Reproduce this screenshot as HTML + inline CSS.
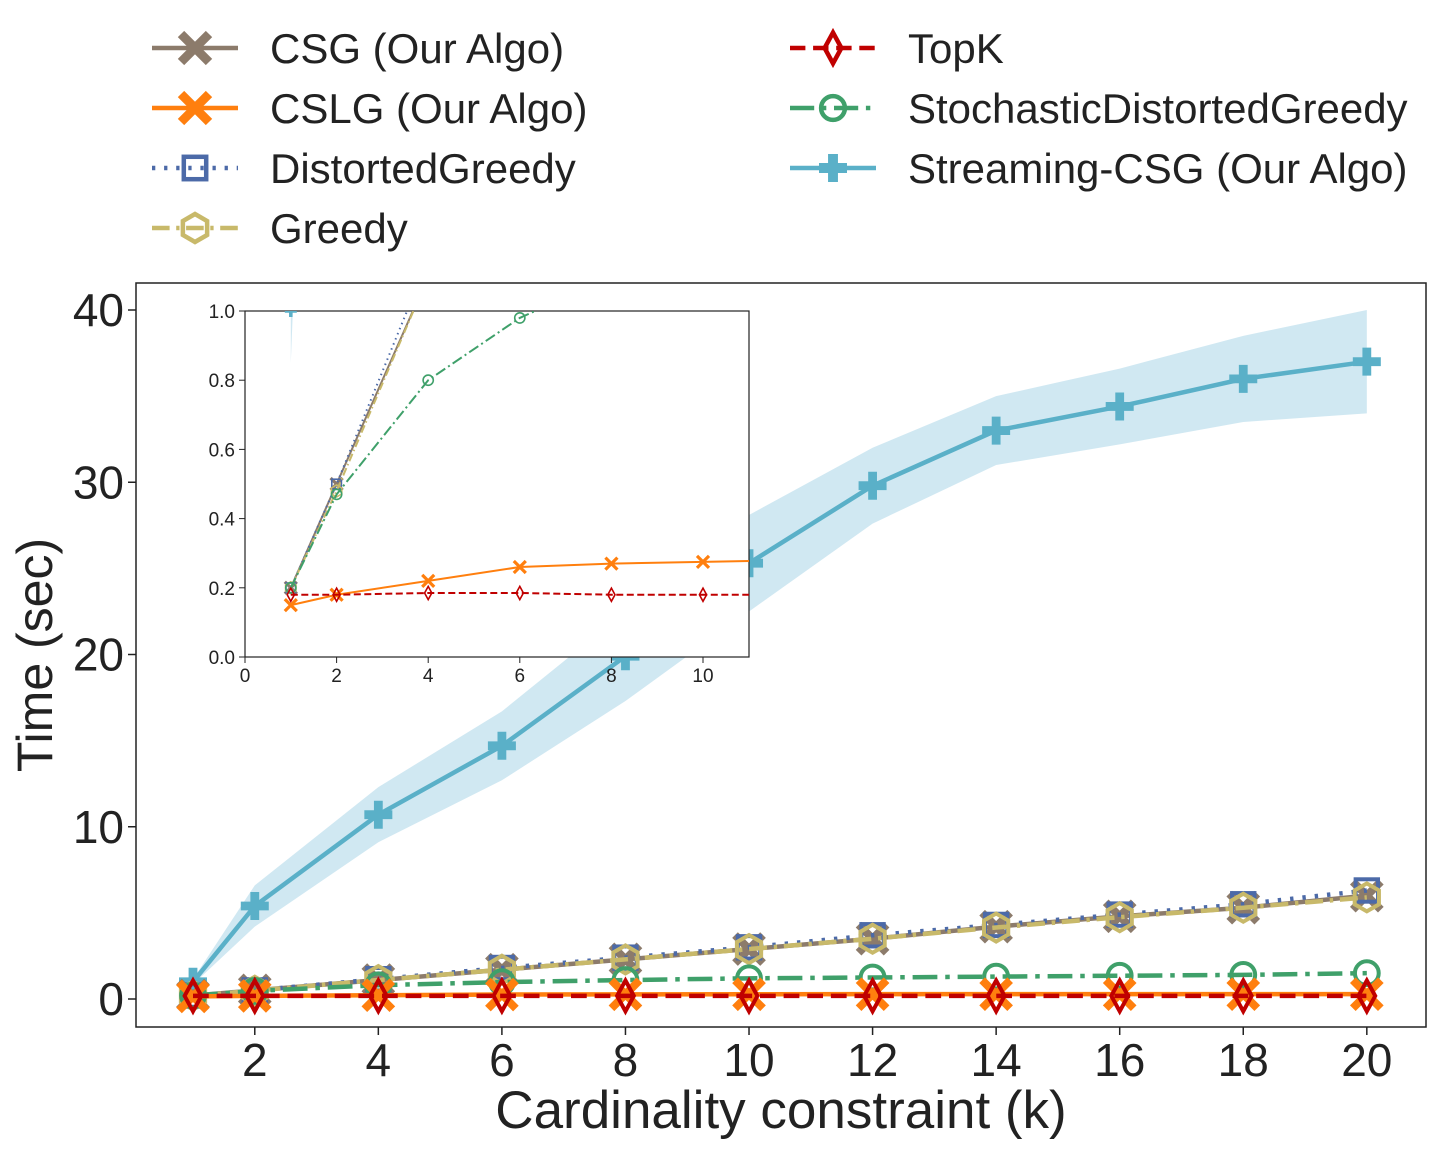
<!DOCTYPE html>
<html><head><meta charset="utf-8"><style>
body{margin:0;background:#fff;}
svg{display:block;font-family:"Liberation Sans",sans-serif;}
</style></head><body>
<svg id="chart" width="1440" height="1152" viewBox="0 0 1440 1152">
<g id="legend"></g>
<rect x="136" y="283" width="1290" height="744" fill="#fff" stroke="#222" stroke-width="1.5"/>
<defs><clipPath id="mainclip"><rect x="136" y="283" width="1290" height="744"/></clipPath>
<clipPath id="insetclip"><rect x="245" y="311" width="504" height="346"/></clipPath></defs>
<g id="main" clip-path="url(#mainclip)"></g>
<g id="mainaxes"></g>
<rect x="245" y="311" width="504" height="346" fill="#fff" stroke="#222" stroke-width="1.2"/>
<g id="inset" clip-path="url(#insetclip)"></g>
<g id="insetaxes"></g>
<text x="781" y="1128" font-size="53" text-anchor="middle" fill="#222">Cardinality constraint (k)</text>
<text transform="translate(52,655) rotate(-90)" font-size="50" text-anchor="middle" fill="#222">Time (sec)</text>
</svg>
<script>
const ks=[1,2,4,6,8,10,12,14,16,18,20];
const csg=[0.2,0.5,1.1,1.7,2.3,2.9,3.5,4.2,4.8,5.3,6.0];
const cslg=[0.15,0.18,0.22,0.26,0.27,0.275,0.28,0.28,0.28,0.28,0.28];
const distorted=[0.2,0.5,1.15,1.8,2.4,3.0,3.7,4.3,4.9,5.5,6.3];
const greedy=[0.2,0.48,1.1,1.7,2.3,2.9,3.5,4.15,4.75,5.3,5.9];
const topk=[0.18,0.18,0.185,0.185,0.18,0.18,0.18,0.18,0.18,0.18,0.18];
const stochastic=[0.2,0.47,0.8,0.98,1.1,1.2,1.25,1.3,1.35,1.4,1.5];
const streaming=[1.0,5.4,10.7,14.7,19.9,25.3,29.8,33.0,34.4,36.0,37.0];
const streamingBand=[0.15,1.2,1.6,2.0,2.6,2.8,2.2,2.0,2.2,2.5,3.0];
const mainXTicks=[2,4,6,8,10,12,14,16,18,20];
const mainYTicks=[0,10,20,30,40];
const insetXTicks=[0,2,4,6,8,10];
const insetYTicks=[0.0,0.2,0.4,0.6,0.8,1.0];

const NS="http://www.w3.org/2000/svg";
function mk(tag,attrs,parent){const e=document.createElementNS(NS,tag);for(const k in attrs)e.setAttribute(k,attrs[k]);parent.appendChild(e);return e;}
const mx=k=>193+(k-1)*61.78, my=v=>999-v*17.225;
const ix=k=>245+k*45.8, iy=v=>657-v*346;

const series=[
 {name:'CSG (Our Algo)',vals:csg,color:'#8c7b6b',dash:'',m:'x',id:'csg'},
 {name:'CSLG (Our Algo)',vals:cslg,color:'#ff7f0e',dash:'',m:'x',id:'cslg'},
 {name:'DistortedGreedy',vals:distorted,color:'#4c6aa8',dash:'3 8',m:'s',id:'distorted-greedy'},
 {name:'Greedy',vals:greedy,color:'#c8b96a',dash:'16 6 3 6',m:'h',id:'greedy'},
 {name:'TopK',vals:topk,color:'#c00000',dash:'14 7',m:'d',id:'topk'},
 {name:'StochasticDistortedGreedy',vals:stochastic,color:'#3fa06a',dash:'22 7 4 7',m:'o',id:'stochastic-distorted-greedy'},
 {name:'Streaming-CSG (Our Algo)',vals:streaming,color:'#5ab0c8',dash:'',m:'p',id:'streaming-csg'}
];
function marker(g,t,x,y,s,c,sw){
 if(t==='x'){mk('path',{d:`M${x-s} ${y-s}L${x+s} ${y+s}M${x-s} ${y+s}L${x+s} ${y-s}`,stroke:c,'stroke-width':sw*2,fill:'none'},g);}
 else if(t==='p'){mk('path',{d:`M${x-s} ${y}L${x+s} ${y}M${x} ${y-s}L${x} ${y+s}`,stroke:c,'stroke-width':sw*2.2,fill:'none'},g);}
 else if(t==='s'){mk('rect',{x:x-s*0.8,y:y-s*0.8,width:s*1.6,height:s*1.6,stroke:c,'stroke-width':sw,fill:'none'},g);}
 else if(t==='o'){mk('circle',{cx:x,cy:y,r:s*0.85,stroke:c,'stroke-width':sw,fill:'none'},g);}
 else if(t==='d'){mk('path',{d:`M${x} ${y-s*1.1}L${x+s*0.6} ${y}L${x} ${y+s*1.1}L${x-s*0.6} ${y}Z`,stroke:c,'stroke-width':sw,fill:'none'},g);}
 else if(t==='h'){let p='';for(let i=0;i<6;i++){const a=Math.PI/3*i+Math.PI/6;p+=(i?'L':'M')+(x+s*Math.cos(a))+' '+(y+s*Math.sin(a));}mk('path',{d:p+'Z',stroke:c,'stroke-width':sw,fill:'none'},g);}
}
function draw(gid,X,Y,ms,lw,mw){
 const g=document.getElementById(gid);
 let up=ks.map((k,i)=>X(k)+','+Y(streaming[i]+streamingBand[i]));
 let dn=ks.map((k,i)=>X(k)+','+Y(streaming[i]-streamingBand[i])).reverse();
 const band=mk('polygon',{points:up.concat(dn).join(' '),fill:'#a9d6e8',opacity:'0.55'},g);
 
 
 const order=[6,0,2,3,5,1,4];
 order.forEach(si=>{const s=series[si];
  const sg=mk('g',{},g);
  
  
  const pts=ks.map((k,i)=>X(k)+','+Y(s.vals[i])).join(' ');
  mk('polyline',{points:pts,fill:'none',stroke:s.color,'stroke-width':lw,'stroke-dasharray':s.dash?s.dash.split(' ').map(v=>v*lw/4).join(' '):'none'},sg);
  ks.forEach((k,i)=>{const pm=mk('g',{},sg);
   
   
   marker(pm,s.m,X(k),Y(s.vals[i]),ms,s.color,mw);});
 });
}
draw('main',mx,my,14,4.5,4);
draw('inset',ix,iy,6,2,1.6);
const ma=document.getElementById('mainaxes');
mainXTicks.forEach(t=>{mk('line',{x1:mx(t),x2:mx(t),y1:1027,y2:1035,stroke:'#222','stroke-width':1.5},ma);
 const e=mk('text',{x:mx(t),y:1076,'font-size':46,'text-anchor':'middle',fill:'#222'},ma);e.textContent=t;
 });
mainYTicks.forEach(t=>{mk('line',{x1:128,x2:136,y1:my(t),y2:my(t),stroke:'#222','stroke-width':1.5},ma);
 const e=mk('text',{x:124,y:my(t)+16,'font-size':46,'text-anchor':'end',fill:'#222'},ma);e.textContent=t;
 });
const ia=document.getElementById('insetaxes');
insetXTicks.forEach(t=>{mk('line',{x1:ix(t),x2:ix(t),y1:657,y2:663,stroke:'#222'},ia);
 const e=mk('text',{x:ix(t),y:682,'font-size':19,'text-anchor':'middle',fill:'#222'},ia);e.textContent=t;
 });
insetYTicks.forEach(t=>{mk('line',{x1:239,x2:245,y1:iy(t),y2:iy(t),stroke:'#222'},ia);
 const e=mk('text',{x:235,y:iy(t)+7,'font-size':19,'text-anchor':'end',fill:'#222'},ia);e.textContent=t.toFixed(1);
 });
const lg=document.getElementById('legend');
series.forEach((s,i)=>{const col=i<4?0:1,row=i<4?i:i-4;
 const x0=col?790:152,y=48+row*60;
 const eg=mk('g',{},lg);
 
 
 mk('line',{x1:x0,x2:x0+86,y1:y,y2:y,stroke:s.color,'stroke-width':4.5,'stroke-dasharray':s.dash?s.dash.split(' ').map(v=>v*1.1).join(' '):'none'},eg);
 marker(eg,s.m,x0+43,y,14,s.color,4.5);
 const t=mk('text',{x:col?908:270,y:y+15,'font-size':42,fill:'#222'},eg);t.textContent=s.name;
});
</script>
</body></html>
